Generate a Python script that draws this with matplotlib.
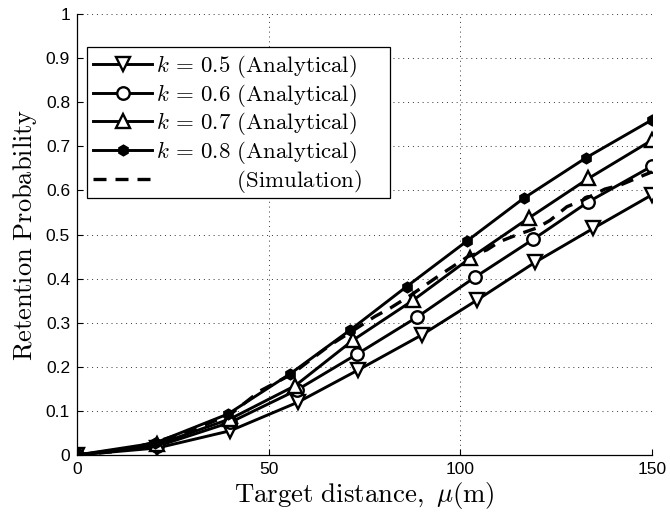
import numpy as np
import matplotlib
matplotlib.use('Agg')
import matplotlib.pyplot as plt
from matplotlib.patches import Rectangle

plt.rcParams['mathtext.fontset'] = 'cm'
plt.rcParams['font.family'] = ['Liberation Sans', 'DejaVu Sans']

# marker positions, one list pair per curve
x_k05 = [0, 21, 40, 57.7, 73.4, 89.9, 104.3, 119.5, 134.7, 150]
y_k05 = [0, 0.016, 0.055, 0.12, 0.193, 0.272, 0.351, 0.437, 0.514, 0.59]
x_k06 = [0, 21, 40, 57.3, 73.1, 88.6, 103.8, 119.0, 133.4, 150]
y_k06 = [0, 0.02, 0.074, 0.147, 0.229, 0.312, 0.403, 0.489, 0.574, 0.655]
x_k07 = [0, 21, 40, 56.9, 72.1, 87.7, 102.5, 117.8, 133.4, 150]
y_k07 = [0, 0.024, 0.082, 0.157, 0.261, 0.351, 0.446, 0.537, 0.627, 0.714]
x_k08 = [0, 20.3, 39.4, 55.6, 71.2, 86.0, 101.7, 116.5, 132.8, 150]
y_k08 = [0, 0.027, 0.093, 0.184, 0.283, 0.382, 0.485, 0.582, 0.674, 0.76]
x_sim = [0, 10, 20, 30, 40, 47.7, 56, 60.8, 66, 72, 77.7, 81.7, 87, 95, 102,
         106.9, 110.3, 114.7, 120, 123.4, 127.8, 132, 137.7, 141.7, 146.9, 150]
y_sim = [0, 0.008, 0.028, 0.056, 0.092, 0.145, 0.183, 0.215, 0.249, 0.282, 0.314,
         0.333, 0.362, 0.41, 0.45, 0.465, 0.484, 0.499, 0.515, 0.532, 0.563, 0.578,
         0.603, 0.612, 0.631, 0.642]

labels = [r'$k\,=\,0.5\ \mathrm{(Analytical)}$', r'$k\,=\,0.6\ \mathrm{(Analytical)}$',
          r'$k\,=\,0.7\ \mathrm{(Analytical)}$', r'$k\,=\,0.8\ \mathrm{(Analytical)}$',
          r'$\qquad\qquad\mathrm{(Simulation)}$']
x_ticks = [0, 50, 100, 150]
y_ticks = [0, 0.1, 0.2, 0.3, 0.4, 0.5, 0.6, 0.7, 0.8, 0.9, 1]
y_ticklabels = ['0', '0.1', '0.2', '0.3', '0.4', '0.5', '0.6', '0.7', '0.8', '0.9', '1']

fig = plt.figure(figsize=(6.7, 5.15), dpi=100)
ax = fig.add_axes([0.1149, 0.1165, 0.8582, 0.8563])

lw = 2.1
ax.plot(x_k05, y_k05, 'k-', lw=lw, marker='v', ms=10, mfc='white', mec='k', mew=1.7, label=labels[0])
ax.plot(x_k06, y_k06, 'k-', lw=lw, marker='o', ms=9, mfc='white', mec='k', mew=1.7, label=labels[1])
ax.plot(x_k07, y_k07, 'k-', lw=lw, marker='^', ms=10, mfc='white', mec='k', mew=1.7, label=labels[2])
ax.plot(x_k08, y_k08, 'k-', lw=lw, marker='h', ms=7.5, mfc='k', mec='k', mew=1.2, label=labels[3])
ax.plot(x_sim, y_sim, 'k--', lw=2.4, dashes=(3.9, 2.7), label=labels[4])

ax.set_xlim(0, 150)
ax.set_ylim(0, 1)
ax.set_xticks(x_ticks)
ax.set_yticks(y_ticks)
ax.set_yticklabels(y_ticklabels)
ax.tick_params(direction='in', length=4, labelsize=12.5, pad=5)
ax.grid(True, linestyle=(0, (1, 4)), color='k', lw=0.7, alpha=0.8)
for s in ['top', 'right']:
    ax.spines[s].set_visible(False)
for s in ['left', 'bottom']:
    ax.spines[s].set_linewidth(0.9)

ax.set_xlabel(r'$\mathrm{Target\ distance,}\ \mu\mathrm{(m)}$', fontsize=19.3, labelpad=2)
ax.set_ylabel(r'$\mathrm{Retention\ Probability}$', fontsize=19, labelpad=5)

# legend frame drawn by hand: it is wider than the entries in the original
ax.add_patch(Rectangle((0.0174, 0.583), 0.527, 0.342, transform=ax.transAxes,
                       facecolor='white', edgecolor='k', lw=0.9, zorder=4.9))
leg = ax.legend(loc='upper left', bbox_to_anchor=(0.0174, 0.925), borderaxespad=0,
                fontsize=16.5, handlelength=2.6, handletextpad=0.15,
                labelspacing=0.08, frameon=False, numpoints=1, borderpad=0.25)

fig.savefig('out.png', dpi=100)
